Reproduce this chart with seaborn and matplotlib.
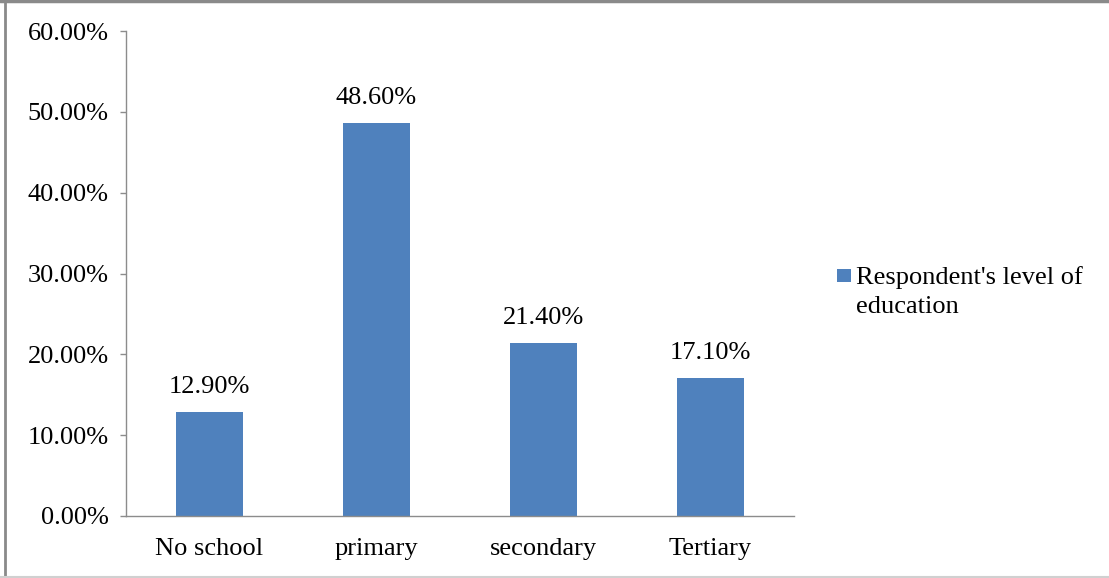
import matplotlib
matplotlib.use("Agg")
import matplotlib.pyplot as plt
from matplotlib.lines import Line2D
from matplotlib.patches import Patch, Rectangle
from matplotlib.legend_handler import HandlerPatch
from matplotlib.ticker import FuncFormatter, FixedLocator
import seaborn as sns
import pandas as pd

categories = ["No school", "primary", "secondary", "Tertiary"]
values = [12.9, 48.6, 21.4, 17.1]
series_name = "Respondent's level of\neducation"

bar_color = "#4F81BD"
axis_color = "#8C8C8C"
font_size = 19

sns.set_theme(style="white")
plt.rcParams["font.family"] = ["Liberation Serif", "DejaVu Serif"]
plt.rcParams["text.color"] = "black"

df = pd.DataFrame({"level": categories, "pct": values})

fig = plt.figure(figsize=(11.09, 5.78), dpi=100)
ax = fig.add_axes([126 / 1109, 1 - 516 / 578, (794 - 126) / 1109, (516 - 31) / 578])

sns.barplot(data=df, x="level", y="pct", color=bar_color, width=0.4,
            saturation=1, ax=ax, edgecolor="none")

ax.set_xlim(-0.5, len(categories) - 0.5)
ax.set_ylim(0, 60)
ax.set_yticks([0, 10, 20, 30, 40, 50, 60])
ax.yaxis.set_major_formatter(FuncFormatter(lambda v, _: f"{v:.2f}%"))
ax.set_xlabel("")
ax.set_ylabel("")

# category boundary tick marks, labels at bar centres
ax.xaxis.set_minor_locator(FixedLocator([i - 0.5 for i in range(len(categories) + 1)]))
ax.tick_params(axis="x", which="major", length=0, pad=16, labelsize=font_size,
               labelcolor="black")
ax.tick_params(axis="x", which="minor", length=4.5, width=1, color=axis_color, direction="out")
ax.tick_params(axis="y", which="major", length=4.5, width=1, color=axis_color,
               direction="out", pad=8, labelsize=font_size, labelcolor="black", left=True)

for side in ("top", "right"):
    ax.spines[side].set_visible(False)
for side in ("left", "bottom"):
    ax.spines[side].set_color(axis_color)
    ax.spines[side].set_linewidth(1)

for container in ax.containers:
    ax.bar_label(container, labels=[f"{v:.2f}%" for v in values], padding=10,
                 fontsize=font_size, color="black")


def top_line_square(legend, orig_handle, xdescent, ydescent, width, height, fontsize):
    # square key aligned with the first line of a two-line label
    side = width
    return Rectangle((-xdescent, -ydescent + 0.62 * fontsize), side, side)


handle = Patch(facecolor=bar_color, edgecolor="none")
leg = fig.legend([handle], [series_name], loc="center left",
                 bbox_to_anchor=(837 / 1109, 1 - 292 / 578), frameon=False,
                 fontsize=font_size, handlelength=0.52, handleheight=0.52,
                 handletextpad=0.2, borderaxespad=0, borderpad=0,
                 handler_map={Patch: HandlerPatch(patch_func=top_line_square)})
for t in leg.get_texts():
    t.set_linespacing(1.45)

# outer chart frame
fig.add_artist(Line2D([4.5 / 1109, 4.5 / 1109], [0, 1], transform=fig.transFigure,
                      color="#8A8A8A", lw=2))
fig.add_artist(Line2D([0, 1], [1 - 1 / 578, 1 - 1 / 578], transform=fig.transFigure,
                      color="#8A8A8A", lw=2.5))
fig.add_artist(Line2D([0, 1], [1 / 578, 1 / 578], transform=fig.transFigure,
                      color="#D0D0D0", lw=1.5))

fig.savefig("out.png", dpi=100)
